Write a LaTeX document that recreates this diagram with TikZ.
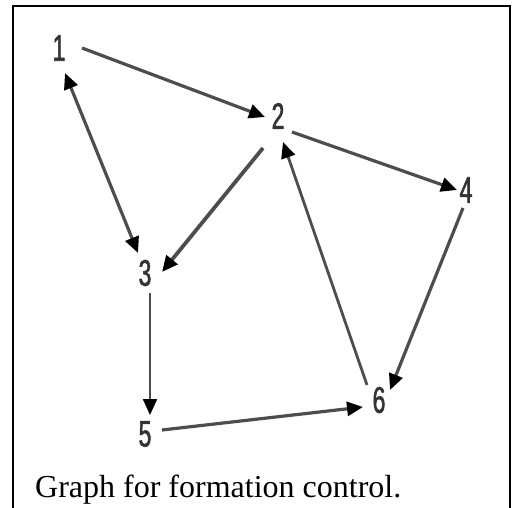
\documentclass[tikz,border=0pt]{standalone}
\usepackage{fontspec}
\setmainfont{Liberation Serif}
\newfontfamily\lblfont[FakeStretch=0.62,FakeBold=1.5]{Liberation Sans}
\usetikzlibrary{arrows.meta,calc}
\definecolor{edgegray}{HTML}{4d4d4d}
\definecolor{lblgray}{HTML}{333333}
\tikzset{
  vlabel/.style={inner sep=0pt, text=lblgray, font=\lblfont\fontsize{37}{37}\selectfont},
  tipshape/.style={},
  edge/.style={draw=edgegray, line width=3.2pt, -{Triangle[length=16pt,width=14pt]}, arrows={[color=black]}},
  frameline/.style={draw=black, line width=1.6pt},
}
\begin{document}
\begin{tikzpicture}[x=1pt,y=-1pt]
\useasboundingbox (0,0) rectangle (519,508);
% frame (open at the bottom)
\draw[frameline] (13,508) -- (13,6) -- (510,6) -- (510,508);
% vertex labels
\node[vlabel] (n1) at (59,48) {1};
\node[vlabel] (n2) at (278,116) {2};
\node[vlabel] (n3) at (145,273) {3};
\node[vlabel] (n4) at (466,190) {4};
\node[vlabel] (n5) at (145,434) {5};
\node[vlabel] (n6) at (379,400) {6};
% edges
\draw[edge] ($(n1)+(23,0)$) -- ($(n2)+(-13,1)$);
\draw[edge, {Triangle[length=16pt,width=14pt]}-{Triangle[length=16pt,width=14pt]}] ($(n1)+(6,25)$) -- ($(n3)+(-7,-20)$);
\draw[edge, line width=3.8pt] ($(n2)+(-15,32)$) -- ($(n3)+(17,-1)$);
\draw[edge] ($(n2)+(14,16)$) -- ($(n4)+(-9,0)$);
\draw[edge, line width=2.8pt] ($(n6)+(-12,-15)$) -- ($(n2)+(5,26)$);
\draw[edge] ($(n4)+(-3,18)$) -- ($(n6)+(11,-10)$);
\draw[edge, line width=2.2pt] ($(n3)+(5,20)$) -- ($(n5)+(5,-19)$);
\draw[edge] ($(n5)+(17,-4)$) -- ($(n6)+(-16,7)$);
% caption
\node[anchor=base west, inner sep=0pt, font=\fontsize{32}{38}\selectfont] (cap) at (35,497) {Graph for formation control.};
\end{tikzpicture}
\end{document}
